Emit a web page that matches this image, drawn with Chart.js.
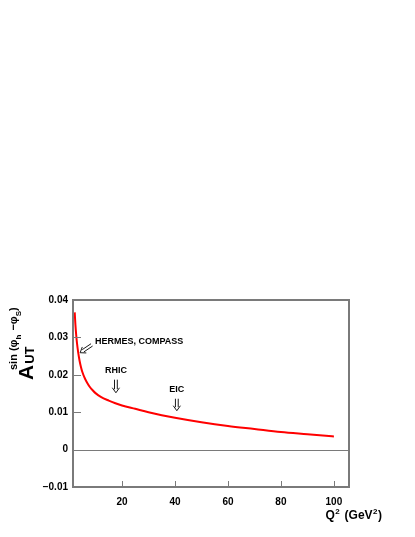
<!DOCTYPE html>
<html>
<head>
<meta charset="utf-8">
<script src="https://cdn.jsdelivr.net/npm/chart.js@4/dist/chart.umd.min.js"></script>
<style>
  html, body { margin: 0; padding: 0; background: #ffffff; }
  #wrap { width: 415px; height: 537px; position: relative; }
</style>
</head>
<body>
<div id="wrap"><canvas id="c" width="415" height="537"></canvas></div>
<script>
// ---- data ----
const qsq  = [2.15, 2.4, 2.7, 3.0, 3.5, 4.0, 4.5, 5, 6, 7, 8, 9, 10, 12, 15, 17.5, 20, 25, 30, 35, 40, 50, 60, 70, 80, 90, 100];
const asym = [0.0367, 0.0335, 0.0307, 0.0285, 0.0258, 0.0237, 0.0221, 0.0208, 0.0190, 0.0177, 0.0166, 0.0158, 0.0151, 0.0141, 0.0131, 0.0124, 0.0118, 0.0109, 0.0100, 0.0092, 0.0085, 0.0073, 0.0063, 0.0055, 0.0047, 0.0041, 0.0035];
const xTicks = [20, 40, 60, 80, 100];
const yTicks = [-0.01, 0, 0.01, 0.02, 0.03, 0.04];
const yTickLabels = ["\u22120.01", "0", "0.01", "0.02", "0.03", "0.04"];
const xRange = [1.5, 105.7];
const yRange = [-0.01, 0.04];
// annotations: label, label position (x, y), arrow tail, arrow head
const annLabels = ["HERMES, COMPASS", "RHIC", "EIC"];
const annLabelX = [9.8, 17.7, 40.7];
const annLabelY = [0.0289, 0.0211, 0.0160];
const annAlign  = ["left", "center", "center"];
const arrowFromX = [8.6, 17.7, 40.7];
const arrowFromY = [0.0280, 0.0187, 0.0136];
const arrowToX   = [4.2, 17.7, 40.7];
const arrowToY   = [0.0259, 0.0152, 0.0104];

const FONT = '"Liberation Sans", Arial, Helvetica, sans-serif';
const FRAME = '#7a7a7a';

function drawDoubleArrow(ctx, x0, y0, x1, y1) {
  const L = Math.hypot(x1 - x0, y1 - y0);
  const dx = (x1 - x0) / L, dy = (y1 - y0) / L;
  const nx = -dy, ny = dx;
  const g = 1.4;
  ctx.beginPath();
  ctx.moveTo(x0 + nx * g, y0 + ny * g);
  ctx.lineTo(x1 - dx * 3.5 + nx * g, y1 - dy * 3.5 + ny * g);
  ctx.moveTo(x0 - nx * g, y0 - ny * g);
  ctx.lineTo(x1 - dx * 3.5 - nx * g, y1 - dy * 3.5 - ny * g);
  ctx.moveTo(x1 - dx * 5 + nx * 3.6, y1 - dy * 5 + ny * 3.6);
  ctx.lineTo(x1, y1);
  ctx.lineTo(x1 - dx * 5 - nx * 3.6, y1 - dy * 5 - ny * 3.6);
  ctx.stroke();
}

function drawRuns(ctx, runs, x, y) {
  let cx = x;
  for (const r of runs) {
    ctx.font = r.font;
    ctx.fillText(r.text, cx, y + r.dy);
    cx += ctx.measureText(r.text).width + (r.gap || 0);
  }
  return cx - x;
}
function runsWidth(ctx, runs) {
  let w = 0;
  for (const r of runs) { ctx.font = r.font; w += ctx.measureText(r.text).width + (r.gap || 0); }
  return w;
}

const decor = {
  id: 'decor',
  beforeDatasetsDraw(chart) {
    const { ctx, chartArea: a, scales: { x, y } } = chart;
    ctx.save();
    ctx.strokeStyle = FRAME;
    ctx.lineWidth = 1;
    const y0 = Math.round(y.getPixelForValue(0)) + 0.5;
    ctx.beginPath(); ctx.moveTo(a.left, y0); ctx.lineTo(a.right, y0); ctx.stroke();
    ctx.restore();
  },
  afterDatasetsDraw(chart) {
    const { ctx, chartArea: a, scales: { x, y } } = chart;
    ctx.save();
    ctx.strokeStyle = FRAME;
    ctx.lineWidth = 2;
    ctx.strokeRect(a.left, a.top, a.right - a.left, a.bottom - a.top);
    ctx.lineWidth = 1;
    for (const v of yTicks) {
      const py = Math.round(y.getPixelForValue(v)) + 0.5;
      ctx.beginPath(); ctx.moveTo(a.left, py); ctx.lineTo(a.left + 8, py); ctx.stroke();
    }
    for (const v of xTicks) {
      const px = Math.round(x.getPixelForValue(v)) + 0.5;
      ctx.beginPath(); ctx.moveTo(px, a.bottom); ctx.lineTo(px, a.bottom - 6); ctx.stroke();
    }
    ctx.fillStyle = '#000';
    ctx.font = 'bold 9px ' + FONT;
    ctx.textBaseline = 'middle';
    for (let i = 0; i < annLabels.length; i++) {
      ctx.textAlign = annAlign[i];
      ctx.fillText(annLabels[i], x.getPixelForValue(annLabelX[i]), y.getPixelForValue(annLabelY[i]));
    }
    ctx.strokeStyle = '#000';
    ctx.lineWidth = 0.9;
    for (let i = 0; i < arrowFromX.length; i++) {
      drawDoubleArrow(ctx,
        x.getPixelForValue(arrowFromX[i]), y.getPixelForValue(arrowFromY[i]),
        x.getPixelForValue(arrowToX[i]), y.getPixelForValue(arrowToY[i]));
    }
    ctx.textAlign = 'left';
    ctx.textBaseline = 'alphabetic';
    const xr = [
      { text: 'Q', font: 'bold 12px ' + FONT, dy: 0, gap: 0.5 },
      { text: '2', font: 'bold 8px ' + FONT, dy: -5, gap: 1.5 },
      { text: ' (GeV', font: 'bold 12px ' + FONT, dy: 0, gap: 0.5 },
      { text: '2', font: 'bold 8px ' + FONT, dy: -5, gap: 0.5 },
      { text: ')', font: 'bold 12px ' + FONT, dy: 0 }
    ];
    const w = runsWidth(ctx, xr);
    drawRuns(ctx, xr, 382 - w, 519);
    ctx.translate(33, 380);
    ctx.rotate(-Math.PI / 2);
    drawRuns(ctx, [
      { text: 'A', font: 'bold 21px ' + FONT, dy: 0, gap: 1 },
      { text: 'UT', font: 'bold 13px ' + FONT, dy: 1 }
    ], 0, 0);
    drawRuns(ctx, [
      { text: 'sin (', font: 'bold 11px ' + FONT, dy: -16 },
      { text: '\u03C6', font: 'bold 11px ' + FONT, dy: -16 },
      { text: 'h', font: 'bold 8px ' + FONT, dy: -12, gap: 1 },
      { text: ' \u2212', font: 'bold 11px ' + FONT, dy: -16 },
      { text: '\u03C6', font: 'bold 11px ' + FONT, dy: -16 },
      { text: 'S', font: 'bold 8px ' + FONT, dy: -12 },
      { text: ')', font: 'bold 11px ' + FONT, dy: -16 }
    ], 10, 0);
    ctx.restore();
  }
};

new Chart(document.getElementById('c'), {
  type: 'line',
  data: {
    datasets: [{
      data: qsq.map((q, i) => ({ x: q, y: asym[i] })),
      borderColor: '#ff0000',
      borderWidth: 2,
      pointRadius: 0,
      cubicInterpolationMode: 'monotone',
      fill: false
    }]
  },
  options: {
    responsive: false,
    animation: false,
    devicePixelRatio: 1,
    layout: { padding: { left: 0, right: 66, top: 300, bottom: 0 } },
    plugins: { legend: { display: false }, tooltip: { enabled: false } },
    scales: {
      x: {
        type: 'linear',
        min: xRange[0], max: xRange[1],
        afterBuildTicks: s => { s.ticks = xTicks.map(v => ({ value: v })); },
        afterFit: s => { s.height = 50; },
        grid: { display: false, drawTicks: false },
        border: { display: false },
        ticks: {
          color: '#000', padding: 9, maxRotation: 0, autoSkip: false,
          font: { family: FONT, size: 10, weight: 'bold' },
          callback: v => String(v)
        }
      },
      y: {
        type: 'linear',
        min: yRange[0], max: yRange[1],
        afterBuildTicks: s => { s.ticks = yTicks.map(v => ({ value: v })); },
        afterFit: s => { s.width = 73; },
        grid: { display: false, drawTicks: false },
        border: { display: false },
        ticks: {
          color: '#000', padding: 5, autoSkip: false,
          font: { family: FONT, size: 10, weight: 'bold' },
          callback: v => yTickLabels[yTicks.findIndex(t => Math.abs(t - v) < 1e-9)]
        }
      }
    }
  },
  plugins: [decor]
});
</script>
</body>
</html>
